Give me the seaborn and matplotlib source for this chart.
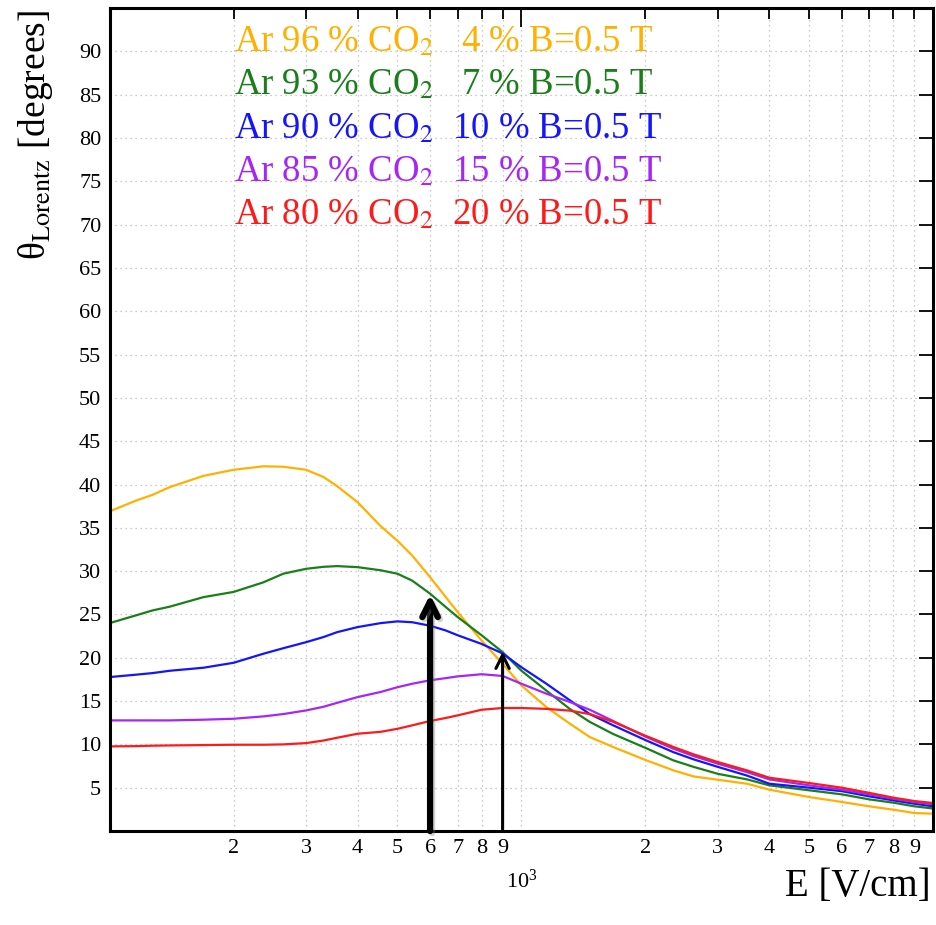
import numpy as np
import pandas as pd
import matplotlib
matplotlib.use("Agg")
import matplotlib.pyplot as plt
import matplotlib.ticker as mticker
import matplotlib.patheffects as pe
import seaborn as sns

# Drift field values [V/cm]
field = [100, 116, 127, 140, 169, 200, 236, 264, 300, 331, 357, 400, 455,
         500, 543, 600, 655, 700, 800, 900, 1000, 1150, 1310, 1465, 1670,
         2000, 2340, 2620, 3000, 3530, 4000, 5000, 6000, 7000, 8000, 9000,
         10000]

# Lorentz angle [degrees] for each Ar/CO2 mixture at B = 0.5 T
angle_co2_4 = [36.9, 38.15, 38.8, 39.7, 41.0, 41.7, 42.1, 42.05, 41.7, 40.85,
               39.8, 37.96, 35.2, 33.5, 31.8, 29.3, 27.0, 25.27, 22.0, 19.3,
               16.8, 14.3, 12.4, 10.85, 9.7, 8.2, 7.0, 6.3, 5.92, 5.46, 4.77,
               3.92, 3.35, 2.85, 2.46, 2.08, 2.0]
angle_co2_7 = [24.0, 24.9, 25.46, 25.9, 27.0, 27.6, 28.7, 29.7, 30.27, 30.5,
               30.58, 30.46, 30.1, 29.7, 28.9, 27.4, 25.85, 24.7, 22.6, 20.65,
               18.5, 16.2, 14.1, 12.6, 11.2, 9.6, 8.15, 7.4, 6.6, 5.96, 5.27,
               4.7, 4.23, 3.65, 3.27, 2.85, 2.6]
angle_co2_10 = [17.77, 18.05, 18.23, 18.5, 18.85, 19.42, 20.46, 21.1, 21.8, 22.4,
                22.96, 23.54, 24.0, 24.2, 24.1, 23.7, 23.15, 22.6, 21.6, 20.5,
                18.9, 17.0, 15.1, 13.5, 12.2, 10.5, 9.1, 8.27, 7.4, 6.4, 5.46,
                5.0, 4.6, 4.0, 3.54, 3.15, 2.85]
angle_co2_15 = [12.77, 12.77, 12.77, 12.77, 12.85, 12.96, 13.23, 13.5, 13.92, 14.35,
                14.8, 15.46, 16.05, 16.6, 17.0, 17.4, 17.65, 17.85, 18.1, 17.9,
                17.0, 15.85, 14.9, 14.0, 12.7, 10.9, 9.5, 8.65, 7.77, 6.8, 5.96,
                5.27, 4.77, 4.23, 3.73, 3.35, 3.08]
angle_co2_20 = [9.77, 9.8, 9.85, 9.88, 9.92, 9.96, 9.96, 10.0, 10.15, 10.45,
                10.77, 11.23, 11.45, 11.8, 12.2, 12.7, 13.05, 13.35, 14.0, 14.2,
                14.2, 14.1, 13.9, 13.5, 12.6, 11.0, 9.7, 8.85, 7.96, 7.0, 6.15,
                5.54, 5.0, 4.4, 3.85, 3.46, 3.23]

labels = [r"Ar 96 % CO$_2$   4 % B=0.5 T",
          r"Ar 93 % CO$_2$   7 % B=0.5 T",
          r"Ar 90 % CO$_2$  10 % B=0.5 T",
          r"Ar 85 % CO$_2$  15 % B=0.5 T",
          r"Ar 80 % CO$_2$  20 % B=0.5 T"]
colors = ["#ffb000", "#1a7f1a", "#1414ff", "#a526f5", "#ff1a1a"]

# Arrows marking the working points
arrow_field = [600, 900]
arrow_angle = [27.3, 20.7]

x_minor_labels = ["2", "3", "4", "5", "6", "7", "8", "9"]
y_ticks = list(range(5, 95, 5))

series = [angle_co2_4, angle_co2_7, angle_co2_10, angle_co2_15, angle_co2_20]
df = pd.DataFrame({
    "E": field * len(series),
    "theta": np.concatenate(series),
    "mix": np.repeat(labels, len(field)),
})

sns.set_style("white")
plt.rcParams["font.family"] = ["Liberation Serif", "DejaVu Serif"]
plt.rcParams["mathtext.fontset"] = "stix"
plt.rcParams["text.color"] = "black"

fig = plt.figure(figsize=(9.37, 9.25), dpi=100)
ax = fig.add_axes([0.117, 0.1016, 0.879, 0.8897])

sns.lineplot(data=df, x="E", y="theta", hue="mix", hue_order=labels,
             palette=dict(zip(labels, colors)), linewidth=1.6,
             legend=False, ax=ax, sort=True, estimator=None)

ax.set_xscale("log")
ax.set_xlim(100, 10000)
ax.set_ylim(0, 95)

# x axis: only the 10^3 decade label plus digit labels on minor ticks
ax.xaxis.set_major_locator(mticker.FixedLocator([100, 1000, 10000]))
ax.xaxis.set_major_formatter(mticker.FixedFormatter(["", r"$\mathregular{10^{3}}$", ""]))
minor_pos = [m * d for d in (100, 1000) for m in range(2, 10)]
ax.xaxis.set_minor_locator(mticker.FixedLocator(minor_pos))
ax.xaxis.set_minor_formatter(mticker.FixedFormatter(x_minor_labels * 2))

ax.set_yticks(y_ticks)
ax.yaxis.set_minor_locator(mticker.NullLocator())

ax.tick_params(axis="both", which="both", direction="in", top=True, right=True,
               labelsize=16, colors="black", width=1.3)
ax.tick_params(axis="x", which="major", length=14, pad=28)
ax.tick_params(axis="x", which="minor", length=8, pad=6)
ax.tick_params(axis="y", which="major", length=10, pad=6)

ax.grid(True, axis="x", which="both", linestyle=(0, (1, 3)), color="#b8b8b8", linewidth=0.9)
ax.grid(True, axis="y", which="major", linestyle=(0, (1, 3)), color="#b8b8b8", linewidth=0.9)
ax.set_axisbelow(True)

for s in ax.spines.values():
    s.set_color("black")
    s.set_linewidth(2.2)

# Working-point arrows
ax.annotate("", xy=(arrow_field[0], arrow_angle[0]), xytext=(arrow_field[0], 0),
            arrowprops=dict(arrowstyle="->", lw=4.5, color="black",
                            mutation_scale=28, shrinkA=0, shrinkB=0,
                            path_effects=[pe.SimpleLineShadow(offset=(1.5, -1.5), alpha=0.35,
                                                              shadow_color="gray"),
                                          pe.Normal()]),
            zorder=5)
ax.annotate("", xy=(arrow_field[1], arrow_angle[1]), xytext=(arrow_field[1], 0),
            arrowprops=dict(arrowstyle="->", lw=2.2, color="black",
                            mutation_scale=24, shrinkA=0, shrinkB=0),
            zorder=5)

# Mixture labels stacked at the top, one per 5 degrees
for i, (lab, col) in enumerate(zip(labels, colors)):
    ax.text(200, 90 - 5 * i, lab, color=col, fontsize=26.5,
            ha="left", va="baseline")

ax.set_xlabel("")
ax.set_ylabel("")
fig.text(0.993, 0.0215, "E [V/cm]", fontsize=28, ha="right", va="bottom")
fig.text(0.038, 0.989, r"θ$_{\mathrm{Lorentz}}$ [degrees]", fontsize=27,
         rotation=90, ha="center", va="top")

fig.savefig("out.png", dpi=100)
